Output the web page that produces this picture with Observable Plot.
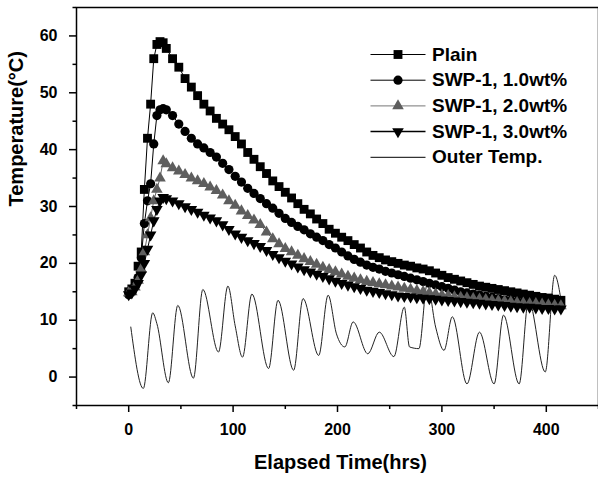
<!DOCTYPE html>
<html><head><meta charset="utf-8">
<script src="https://cdn.jsdelivr.net/npm/d3@7"></script>
<script src="https://cdn.jsdelivr.net/npm/@observablehq/plot@0.6"></script>
<style>body{margin:0;background:#fff} svg{display:block}</style>
</head><body><div id="chart"></div>
<script>
const hours = [0,3,6,9,12,15,18,21,24,27,30,33,36,42,48,54,60,66,72,78,84,90,96,102,108,114,120,126,132,138,144,150,156,162,168,174,180,186,192,198,204,210,216,222,228,234,240,246,252,258,264,270,276,282,288,294,300,306,312,318,324,330,336,342,348,354,360,366,372,378,384,390,396,402,408,414];
const plain = [15,15.5,16.5,19.5,22,33,42,48,56,58.5,59,58.8,57.8,
  56,54.5,52.5,51,49.5,48,46.8,45.5,44.5,43.5,42.3,41,39.5,38.3,37,35.8,34.5,33.5,32.5,31.5,30.5,29.5,28.7,27.8,27,26,25.3,24.6,24,23.3,22.7,22,21.4,21,20.6,20.3,20,19.7,19.5,19.2,19,18.7,18.3,17.9,17.5,17.2,16.9,16.6,16.3,16,15.8,15.6,15.4,15.2,15,14.8,14.6,14.4,14.2,14,13.9,13.7,13.5];
const swp10 = [14.5,15,16,17.5,21,27,31,34,41,46,47,47.2,47,
  46,44.5,43.2,42,41,40.3,39.5,38.7,37.6,36.5,35.3,34.3,33.2,32.3,31.4,30.5,29.7,28.8,27.9,27.2,26.5,25.9,25.2,24.6,24,23.3,22.7,22,21.3,20.7,20.2,19.7,19.3,19,18.6,18.3,18,17.7,17.4,17.1,16.8,16.5,16.2,15.9,15.6,15.3,15,14.8,14.6,14.4,14.2,14,13.8,13.6,13.5,13.3,13.2,13,12.9,12.8,12.7,12.6,12.5];
const swp20 = [14.8,15,15.8,17,19,22,25,28,31,33,35,38,37.5,
  36.8,36.2,35.6,35,34.5,34,33.4,32.8,32,31,30.2,29.2,28.4,27.6,26.8,25.5,24.3,23.4,22.6,22,21.4,20.8,20.3,19.8,19.3,18.9,18.5,18.1,17.7,17.4,17.1,16.8,16.6,16.4,16.2,16,15.8,15.6,15.4,15.2,15,14.8,14.6,14.4,14.3,14.1,14,13.9,13.8,13.7,13.6,13.5,13.4,13.3,13.2,13.1,13,12.9,12.9,12.8,12.7,12.6,12.5];
const swp30 = [14.5,14.8,15.5,16.5,18,20,22.5,25,27.5,29.5,31,31.6,31.4,
  31,30.5,30,29.5,29,28.5,28,27.5,26.8,26,25.2,24.6,24,23.5,23,22.3,21.6,21,20.4,19.9,19.4,18.9,18.5,18.1,17.7,17.3,16.9,16.5,16.2,15.9,15.6,15.3,15.1,14.9,14.7,14.5,14.3,14.2,14.1,14,13.9,13.8,13.7,13.6,13.5,13.4,13.3,13.2,13.1,13,12.9,12.8,12.7,12.6,12.5,12.4,12.3,12.3,12.2,12.1,12.1,12,12];
const outerHours = [2,14,23,27,38,47,62,71,86,95,102,109,118,134,143,158,167,182,191,199,207,215,229,240,254,264,269,278,286,294,302,310,324,336,350,359,374,383,399,408,415];
const outerTemp = [8.8,-2,11.3,9.4,-1,12.6,-0.2,15.4,4.4,16,9,3.5,14.6,1.5,13.5,1.2,13.8,3.8,14.4,7.6,5.3,9.7,4.1,7.9,3.6,12.3,5.3,5.0,16.4,8.8,4.7,10.6,-1.2,7.9,-1.2,10.9,-1.2,13.5,0.9,17.9,12.5];

const seriesNames = ["Plain","SWP-1, 1.0wt%","SWP-1, 2.0wt%","SWP-1, 3.0wt%","Outer Temp."];
const xMajorTicks = [0,100,200,300,400];
const xMinorTicks = [-50,50,150,250,350,450];
const yMajorTicks = [0,10,20,30,40,50,60];
const yMinorTicks = [-5,5,15,25,35,45,55,65];

const seriesValues = [plain, swp10, swp20, swp30];
const styles = [
  {symbol:"square", r:5, fill:"black", rotate:0, line:"black"},
  {symbol:"circle", r:4.6, fill:"black", rotate:0, line:"black"},
  {symbol:"triangle", r:4.3, fill:"#5e5e5e", rotate:0, line:"#666"},
  {symbol:"triangle", r:4.3, fill:"black", rotate:180, line:"black"}
];

const outerRows = outerHours.map((t,i)=>({t, temp: outerTemp[i]}));

const marks = [];
marks.push(Plot.line(outerRows, {x:"t", y:"temp", stroke:"#222", strokeWidth:1, curve:"monotone-x"}));
seriesValues.forEach((vals,k)=>{
  const rows = vals.map((v,i)=>({t:hours[i], temp:v}));
  marks.push(Plot.line(rows, {x:"t", y:"temp", stroke:styles[k].line, strokeWidth:1}));
});
seriesValues.forEach((vals,k)=>{
  const rows = vals.map((v,i)=>({t:hours[i], temp:v}));
  const s = styles[k];
  marks.push(Plot.dot(rows, {x:"t", y:"temp", symbol:s.symbol, r:s.r, fill:s.fill, stroke:"none", rotate:s.rotate}));
});

// legend
const hline = {draw(ctx){ ctx.moveTo(-27.5,0); ctx.lineTo(27.5,0); }};
const legendY = [54,79.7,105.4,131.1,156.8];
seriesNames.forEach((name,i)=>{
  const dy = legendY[i] - 7;
  marks.push(Plot.dot([0], {frameAnchor:"top-left", dx:321.5, dy, symbol:hline, fill:"none", stroke: i===2 ? "#777" : "black", strokeWidth: i===3 ? 1.5 : 1}));
  if (i < 4) {
    const s = styles[i];
    marks.push(Plot.dot([0], {frameAnchor:"top-left", dx:321.5, dy, symbol:s.symbol, r:s.r, fill:s.fill, stroke:"none", rotate:s.rotate}));
  }
  marks.push(Plot.text([name], {frameAnchor:"top-left", dx:355.5, dy, textAnchor:"start", lineAnchor:"middle", fontSize:19, fontWeight:"bold", fill:"black"}));
});

// axes
marks.push(Plot.axisX({ticks:xMinorTicks, tickSize:4, tickFormat:()=>"", label:null, strokeWidth:1.5}));
marks.push(Plot.axisX({ticks:xMajorTicks, tickSize:7, tickPadding:11, fontSize:16, fontWeight:"bold", label:null, strokeWidth:1.5}));
marks.push(Plot.axisY({ticks:yMinorTicks, tickSize:3.5, tickFormat:()=>"", label:null, strokeWidth:1.5}));
marks.push(Plot.axisY({ticks:yMajorTicks, tickSize:7, tickPadding:12, fontSize:16, fontWeight:"bold", label:null, strokeWidth:1.5}));
marks.push(Plot.frame({stroke:"black", strokeWidth:1.5}));
marks.push(Plot.text(["Elapsed Time(hrs)"], {frameAnchor:"bottom", dx:3, dy:57, lineAnchor:"middle", fontSize:20, fontWeight:"bold", fill:"black"}));
marks.push(Plot.text(["Temperature(\u00B0C)"], {frameAnchor:"left", dx:-60, rotate:-90, lineAnchor:"middle", fontSize:20, fontWeight:"bold", fill:"black"}));

const chart = Plot.plot({
  width:598, height:479,
  marginLeft:76, marginRight:0, marginTop:7, marginBottom:74,
  x:{domain:[-50,450]},
  y:{domain:[-5,65]},
  style:{fontFamily:"'Liberation Sans', Arial, sans-serif", background:"white", color:"black", overflow:"visible"},
  marks
});
document.getElementById("chart").append(chart);
</script>
</body></html>
